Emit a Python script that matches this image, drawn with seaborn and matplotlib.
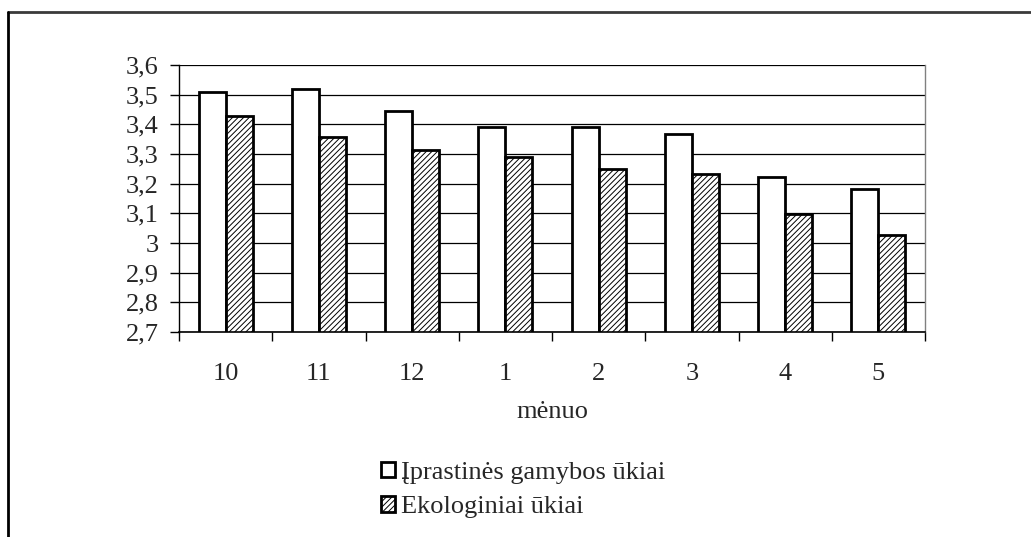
import matplotlib
matplotlib.use("Agg")
import matplotlib.pyplot as plt
from matplotlib.lines import Line2D
import numpy as np
import pandas as pd
import seaborn as sns

# Months of the milk-recording season
months = ["10", "11", "12", "1", "2", "3", "4", "5"]
# Mean values for conventional and organic farms
conventional = [3.51, 3.52, 3.445, 3.392, 3.39, 3.369, 3.222, 3.183]
organic = [3.428, 3.357, 3.314, 3.291, 3.25, 3.233, 3.099, 3.028]
series_names = ["Įprastinės gamybos ūkiai", "Ekologiniai ūkiai"]
y_ticks = [2.7, 2.8, 2.9, 3.0, 3.1, 3.2, 3.3, 3.4, 3.5, 3.6]
y_tick_labels = ["2,7", "2,8", "2,9", "3", "3,1", "3,2", "3,3", "3,4", "3,5", "3,6"]
x_label = "mėnuo"

df = pd.DataFrame({
    "month": months * 2,
    "value": conventional + organic,
    "farm": [series_names[0]] * len(months) + [series_names[1]] * len(months),
})

sns.set_theme(style="white")
plt.rcParams["font.family"] = ["Liberation Serif", "DejaVu Serif"]
plt.rcParams["hatch.linewidth"] = 0.7

FS = 19
W, H, DPI = 1031, 537, 100
fig = plt.figure(figsize=(W / DPI, H / DPI), dpi=DPI)
ax = fig.add_axes([179 / W, 1 - 332 / H, (925 - 179) / W, (332 - 65) / H])

sns.barplot(
    data=df, x="month", y="value", hue="farm", order=months,
    hue_order=series_names, palette=["white", "white"], width=0.58,
    edgecolor="black", linewidth=2, saturation=1, ax=ax, legend=False,
)

# Organic farm bars are hatched
n = len(months)
for i, patch in enumerate(ax.patches):
    if i >= n:
        patch.set_hatch("//////")
        patch.set_facecolor("white")
        if hasattr(patch, "set_hatchcolor"):
            patch.set_hatchcolor("#555555")

ax.set_ylim(2.7, 3.6)
ax.set_xlim(-0.5, n - 0.5)
ax.set_yticks(y_ticks)
ax.set_yticklabels(y_tick_labels, fontsize=FS)
ax.set_xticks(range(n))
ax.set_xticklabels(months, fontsize=FS)
ax.set_xticks(np.arange(-0.5, n), minor=True)
ax.tick_params(axis="x", which="major", length=0, pad=22)
ax.tick_params(axis="x", which="minor", length=6.5, width=1, color="black", direction="out", bottom=True)
ax.tick_params(axis="y", which="major", length=6.5, width=1, color="black", direction="out", left=True, pad=8)
ax.set_xlabel(x_label, fontsize=FS, labelpad=12)
ax.set_ylabel("")

ax.grid(axis="y", color="black", linewidth=0.9)
ax.set_axisbelow(True)
ax.spines["top"].set_visible(False)
ax.spines["left"].set_color("black")
ax.spines["left"].set_linewidth(1)
ax.spines["bottom"].set_color("black")
ax.spines["bottom"].set_linewidth(1.2)
ax.spines["right"].set_color("#808080")
ax.spines["right"].set_linewidth(1)

# Legend below the chart
handles = [ax.patches[0], ax.patches[n]]
fig.legend(
    handles, series_names, loc="upper left", bbox_to_anchor=(370 / W, 1 - 451 / H),
    frameon=False, fontsize=FS, handlelength=0.55, handleheight=0.55,
    handletextpad=0.22, labelspacing=0.45, borderaxespad=0,
)

# Outer frame
fig.add_artist(Line2D([8 / W, 1], [1 - 12 / H] * 2, transform=fig.transFigure, color="#3a3a3a", lw=2))
fig.add_artist(Line2D([8 / W] * 2, [0, 1 - 12 / H], transform=fig.transFigure, color="black", lw=2))

fig.savefig("out.png", dpi=DPI, facecolor="white")
